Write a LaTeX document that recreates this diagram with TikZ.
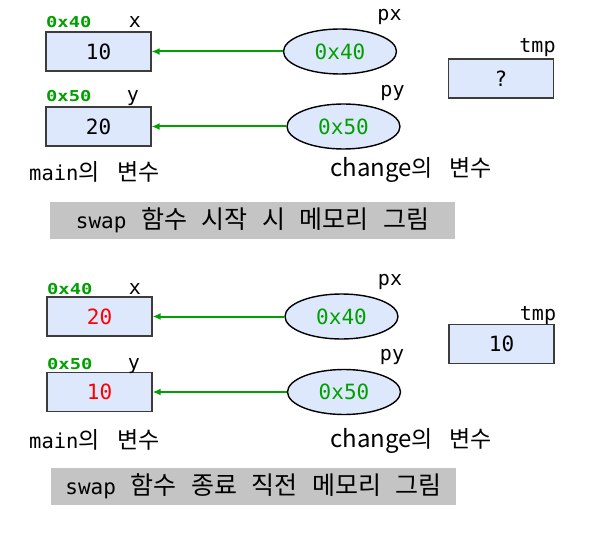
\documentclass[tikz,border=0pt]{standalone}
\usepackage{fontspec}
\usetikzlibrary{shapes.geometric,arrows.meta}
\newfontfamily\mono{DejaVu Sans Mono}
\newfontfamily\kr{Noto Sans CJK KR}
\newfontfamily\lbl[FakeStretch=1.25]{DejaVu Sans Mono}
\definecolor{boxblue}{RGB}{222,232,252}
\definecolor{grn}{RGB}{0,160,0}
\definecolor{barg}{RGB}{196,196,196}
\definecolor{bord}{RGB}{60,60,60}
\newcommand{\valfont}{\mono\fontsize{21}{24}\selectfont}
\newcommand{\namefont}{\mono\fontsize{20}{24}\selectfont}
\newcommand{\krcap}[1]{{\kr\fontsize{23}{27}\selectfont #1}}
\newcommand{\krbar}[1]{{\kr\fontsize{25}{29}\selectfont #1}}
\newcommand{\wgap}{\hspace{14.5pt}}
\tikzset{
  membox/.style={draw=bord, line width=1.2pt, fill=boxblue, minimum width=105pt, minimum height=39pt, inner sep=0pt, font=\valfont},
  ptrell/.style={ellipse, draw=black, line width=1.4pt, fill=boxblue, minimum width=113pt, minimum height=45pt, inner sep=0pt, font=\valfont, text=grn},
  addr/.style={anchor=base west, inner sep=0pt, text=grn, font=\lbl\bfseries\fontsize{15}{18}\selectfont},
  vname/.style={anchor=base, inner sep=0pt, font=\namefont},
  ptr/.style={draw=grn, line width=2pt, -{Latex[length=8pt,width=7pt]}},
  captext/.style={anchor=base west, inner sep=0pt},
  bar/.style={fill=barg, minimum width=405pt, minimum height=37pt, inner sep=0pt},
  redv/.style={text=red}
}
\newcommand{\maincap}{{\mono\fontsize{20.5}{24}\selectfont main}\krcap{의\hspace{18pt}변수}}
\newcommand{\changecap}{\krcap{{\fontsize{24}{28}\selectfont change}의\hspace{17pt}변수}}
\begin{document}
\begin{tikzpicture}[x=1pt,y=-1pt]
\useasboundingbox (0,0) rectangle (596,534);
% ---------- top: swap start ----------
\node[membox] (bx1) at (98.5,51.5) {10};
\node[membox] (by1) at (98.5,126.5) {20};
\node[membox] (tmp1) at (501,78.5) {?};
\node[ptrell] (px1) at (340,51.5) {0x40};
\node[ptrell] (py1) at (343.5,126.5) {0x50};
\node[addr] (ax1) at (46,28) {0x40};
\node[vname] (nx1) at (135,28) {x};
\node[addr] (ay1) at (46,102) {0x50};
\node[vname] (ny1) at (133,102) {y};
\node[vname] (npx1) at (389.5,21) {px};
\node[vname] (npy1) at (392.5,97) {py};
\node[vname] (nt1) at (537.5,53) {tmp};
\node[captext] (cm1) at (29,181) {\maincap};
\node[captext] (cc1) at (330,177) {\changecap};
\node[bar] (bar1) at (252.5,220.5) {{\mono\fontsize{21}{24}\selectfont swap}\wgap\krbar{함수\wgap 시작\wgap 시\wgap 메모리\wgap 그림}};
\draw[ptr] (px1.west) -- (bx1.east);
\draw[ptr] (py1.west) -- (by1.east);
% ---------- bottom: swap end ----------
\node[membox, redv] (bx2) at (99.5,316.5) {20};
\node[membox, redv] (by2) at (99.5,392) {10};
\node[membox] (tmp2) at (501.5,344) {10};
\node[ptrell] (px2) at (341.5,316.5) {0x40};
\node[ptrell] (py2) at (344,392) {0x50};
\node[addr] (ax2) at (47,294) {0x40};
\node[vname] (nx2) at (135,294) {x};
\node[addr] (ay2) at (47,369) {0x50};
\node[vname] (ny2) at (134,369) {y};
\node[vname] (npx2) at (390,285) {px};
\node[vname] (npy2) at (392,360) {py};
\node[vname] (nt2) at (538,320) {tmp};
\node[captext] (cm2) at (29,448) {\maincap};
\node[captext] (cc2) at (330,447) {\changecap};
\node[bar] (bar2) at (253.5,486) {{\mono\fontsize{21}{24}\selectfont swap}\wgap\krbar{함수\wgap 종료\wgap 직전\wgap 메모리\wgap 그림}};
\draw[ptr] (px2.west) -- (bx2.east);
\draw[ptr] (py2.west) -- (by2.east);
\end{tikzpicture}
\end{document}
